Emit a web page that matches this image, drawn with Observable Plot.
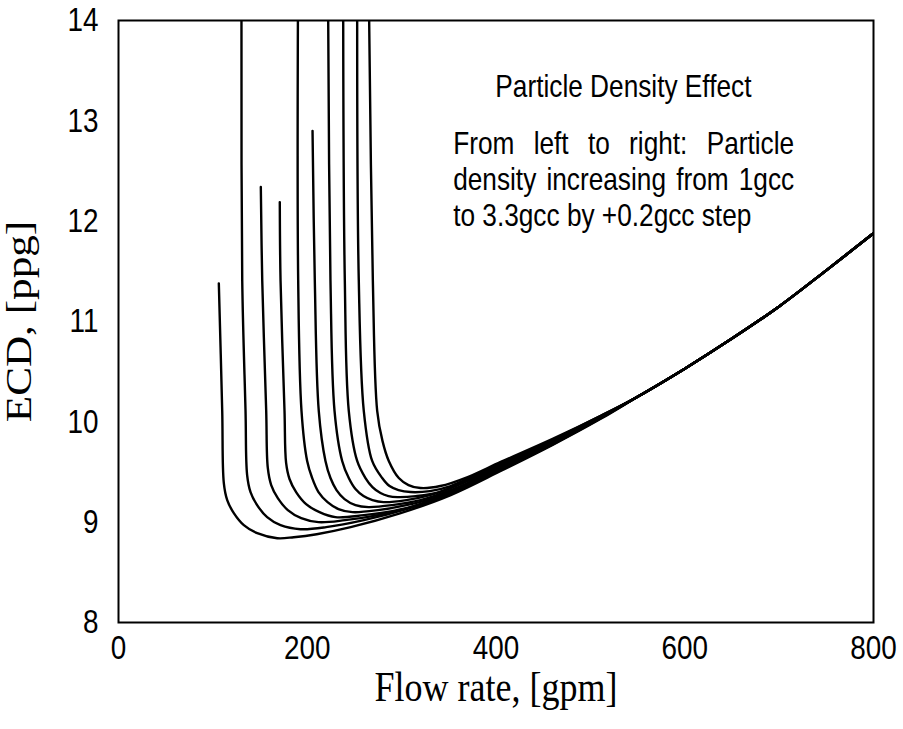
<!DOCTYPE html>
<html>
<head>
<meta charset="utf-8">
<script src="https://cdn.jsdelivr.net/npm/d3@7"></script>
<script src="https://cdn.jsdelivr.net/npm/@observablehq/plot@0.6"></script>
<style>
  html, body { margin: 0; padding: 0; background: #ffffff; }
  #chart { width: 903px; height: 729px; }
</style>
</head>
<body>
<div id="chart"></div>
<script>
// ---- Data (flow rate [gpm], ECD [ppg]) ----
const xTicks = [0, 200, 400, 600, 800];
const yTicks = [8, 9, 10, 11, 12, 13, 14];
const xLabel = "Flow rate, [gpm]";
const yLabel = "ECD, [ppg]";
const title = "Particle Density Effect";
const noteLines = ["From left to right: Particle", "density increasing from 1gcc", "to 3.3gcc by +0.2gcc step"];
const noteY = [12.77, 12.41, 12.05];

// shared high-flow branch (all curves coincide here)
const commonTail = [[550, 10.25], [600, 10.53], [650, 10.83], [700, 11.15], [750, 11.51], [800, 11.88]];

const curve1 = [[106.3, 11.38], [109.9, 10.11], [111.6, 9.39], [115.2, 9.22], [122.2, 9.09], [132.8, 8.97], [147.0, 8.89], [168.2, 8.84], [185.7, 8.85], [210, 8.88], [246, 8.95], [299, 9.09], [352, 9.27], [405, 9.51], [460, 9.77], [511, 10.03]];
const curve2 = [[130.3, 14.0], [131.1, 11.41], [134.6, 10.11], [136.3, 9.47], [139.9, 9.30], [146.9, 9.17], [157.5, 9.05], [171.7, 8.97], [192.8, 8.93], [220, 8.95], [260, 9.02], [305, 9.13], [352, 9.28], [405, 9.52], [460, 9.775], [511, 10.035]];
const curve3 = [[150.8, 12.34], [152.3, 11.41], [156.5, 10.11], [158.2, 9.54], [161.8, 9.37], [168.8, 9.24], [179.4, 9.12], [193.6, 9.04], [211.9, 9.00], [240, 9.02], [275, 9.07], [310, 9.15], [352, 9.29], [405, 9.53], [460, 9.78], [511, 10.04]];
const curve4 = [[170.9, 12.19], [171.7, 11.41], [175.9, 10.11], [177.6, 9.59], [181.2, 9.43], [188.2, 9.30], [198.8, 9.18], [213.0, 9.10], [229.9, 9.05], [260, 9.07], [290, 9.11], [320, 9.18], [352, 9.30], [405, 9.54], [460, 9.785], [511, 10.04]];
const curve5 = [[190.1, 14.0], [190.4, 11.41], [193.9, 10.11], [199.9, 9.61], [205.2, 9.44], [211.9, 9.30], [221.5, 9.20], [233.1, 9.13], [247.9, 9.10], [275, 9.12], [305, 9.17], [330, 9.23], [352, 9.31], [405, 9.55], [460, 9.79], [511, 10.045]];
const curve6 = [[205.6, 12.90], [208.0, 11.41], [212.2, 10.11], [219.3, 9.61], [224.6, 9.44], [231.0, 9.32], [239.5, 9.23], [251.1, 9.17], [264.9, 9.15], [290, 9.17], [320, 9.22], [352, 9.32], [380, 9.43], [405, 9.56], [460, 9.80], [511, 10.05]];
const curve7 = [[222.2, 14.0], [224.6, 11.41], [228.9, 10.11], [237.0, 9.61], [244.0, 9.44], [251.1, 9.33], [259.6, 9.26], [269.1, 9.22], [280.8, 9.20], [305, 9.22], [330, 9.27], [352, 9.34], [380, 9.45], [405, 9.57], [460, 9.81], [511, 10.05]];
const curve8 = [[238.1, 14.0], [239.8, 11.41], [244.0, 10.11], [252.9, 9.61], [261.7, 9.44], [269.1, 9.35], [277.6, 9.29], [286.1, 9.26], [295.6, 9.25], [315, 9.26], [340, 9.30], [370, 9.42], [405, 9.58], [460, 9.815], [511, 10.055]];
const curve9 = [[252.9, 14.0], [254.6, 11.41], [259.9, 10.11], [268.8, 9.61], [279.4, 9.44], [287.2, 9.36], [296.7, 9.32], [309.4, 9.30], [330, 9.31], [352, 9.36], [380, 9.48], [405, 9.59], [460, 9.82], [511, 10.06]];
const curve10 = [[265.6, 14.0], [269.5, 11.41], [274.1, 10.11], [279.7, 9.81], [286.4, 9.61], [297.0, 9.44], [307.3, 9.37], [320.0, 9.34], [341, 9.36], [370, 9.45], [405, 9.60], [460, 9.83], [511, 10.06]];

const curves = [curve1, curve2, curve3, curve4, curve5, curve6, curve7, curve8, curve9, curve10];
const rows = curves.flatMap((c, k) => c.concat(commonTail).map(([q, ecd]) => ({q, ecd, k})));

const sans = "'Liberation Sans', Arial, sans-serif";
const serif = "'Liberation Serif', 'Times New Roman', serif";
const narrow = 0.82;   // reference sans text is condensed (Arial Narrow-like)
const stretch = 1.2;   // reference serif axis titles look stretched vertically

const chart = Plot.plot({
  width: 903,
  height: 729,
  marginLeft: 118,
  marginRight: 30,
  marginTop: 20,
  marginBottom: 107,
  style: {fontFamily: sans, fontSize: "34px", color: "black", background: "white"},
  x: {domain: [0, 800]},
  y: {domain: [8, 14]},
  marks: [
    Plot.axisX({ticks: xTicks, tickFormat: d => String(d), tickSize: 0, tickPadding: 12, label: null, fontSize: 34}),
    Plot.axisY({ticks: yTicks, tickFormat: d => String(d), tickSize: 0, tickPadding: 20, label: null, fontSize: 34}),
    Plot.line(rows, {x: "q", y: "ecd", z: "k", stroke: "black", strokeWidth: 2.4, curve: "catmull-rom", clip: true}),
    Plot.frame({stroke: "black", strokeWidth: 2}),
    Plot.text([title], {x: 535, y: 13.34, text: d => d, fontSize: 32, fontFamily: sans, textAnchor: "middle"}),
    Plot.text(noteLines, {x: 354.6, y: (d, i) => noteY[i], text: d => d, fontSize: 32, fontFamily: sans, textAnchor: "start"}),
    Plot.text([xLabel], {frameAnchor: "bottom", dy: 65, lineAnchor: "middle", textAnchor: "middle", text: d => d, fontSize: 36, fontFamily: serif}),
    Plot.text([yLabel], {frameAnchor: "left", dx: -99, rotate: -90, lineAnchor: "middle", textAnchor: "middle", text: d => d, fontSize: 36, fontFamily: serif})
  ]
});

document.getElementById("chart").appendChild(chart);

// reshape texts around their anchors to match the reference's proportions
chart.querySelectorAll("text").forEach(t => {
  const s = t.textContent;
  let tr = t.getAttribute("transform");
  if (!tr) {
    const x = +(t.getAttribute("x") || 0), y = +(t.getAttribute("y") || 0);
    t.removeAttribute("x"); t.removeAttribute("y");
    tr = `translate(${x},${y})`;
  }
  let k;
  if (s === xLabel) k = `scale(1,${stretch})`;
  else if (s === yLabel) k = `scale(${stretch},1)`;
  else k = `scale(${narrow},1)`;
  t.setAttribute("transform", tr + " " + k);
  // justify the first two note lines by widening the word gaps
  if (s === noteLines[0] || s === noteLines[1]) {
    const natural = t.getComputedTextLength();
    const gaps = s.split(" ").length - 1;
    t.style.wordSpacing = ((341 / narrow - natural) / gaps) + "px";
  }
});
</script>
</body>
</html>
